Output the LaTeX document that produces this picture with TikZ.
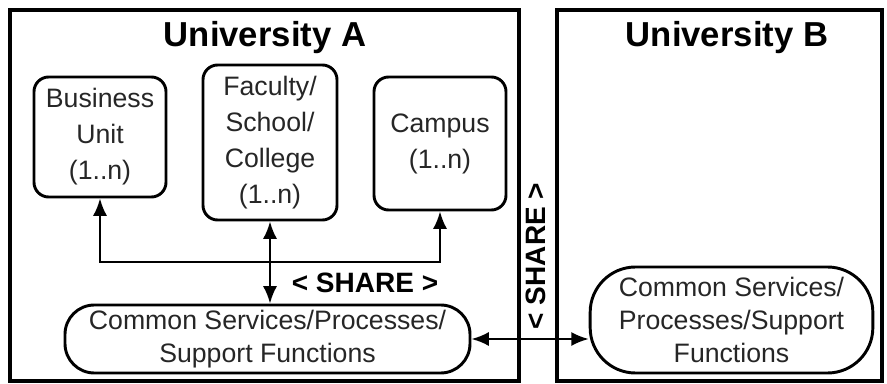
\documentclass[tikz,border=0pt]{standalone}
\usepackage{fontspec}
\setmainfont{Liberation Sans}
\usetikzlibrary{arrows.meta}
\begin{document}
\begin{tikzpicture}[x=0.75pt, y=-0.75pt, >={Latex[length=13pt,width=10.5pt]},
  unibox/.style={draw, line width=2.4pt},
  unitbox/.style={draw, line width=2.2pt, rounded corners=11pt, align=center, inner sep=2pt,
    text=black!85, font=\fontsize{20}{27}\selectfont},
  commonbox/.style={draw, line width=2.2pt, align=center, inner sep=2pt,
    text=black!85, font=\fontsize{20}{25}\selectfont},
  titletext/.style={font=\fontsize{26}{30}\selectfont\bfseries},
  sharetext/.style={font=\fontsize{21}{25}\selectfont\bfseries},
  linkarrow/.style={line width=1.6pt, <->}]
  \useasboundingbox (0,0) rectangle (887,384);
  % the two universities
  \node[unibox, minimum width=381.75pt, minimum height=278.25pt] (uniA) at (264.5,195.5) {};
  \node[unibox, minimum width=243.75pt, minimum height=278.25pt] (uniB) at (719.5,195.5) {};
  \node[titletext] (titleA) at (265,38) {University A};
  \node[titletext] (titleB) at (727,38) {University B};
  % units of A
  \node[unitbox, minimum width=99pt, minimum height=90pt] (bu) at (100,137) {Business\\Unit\\(1..n)};
  \node[unitbox, minimum width=100.5pt, minimum height=116.25pt] (fac) at (270,142.5) {Faculty/\\School/\\College\\(1..n)};
  \node[unitbox, minimum width=99pt, minimum height=99.75pt] (cam) at (440,143.5) {Campus\\(1..n)};
  % common services
  \node[commonbox, rounded corners=22pt, minimum width=303.75pt, minimum height=51pt] (comA) at (267.5,339)
    {Common Services/Processes/\\Support Functions};
  \node[commonbox, rounded corners=34pt, minimum width=212pt, minimum height=79.5pt] (comB) at (731.5,320)
    {Common Services/\\Processes/Support\\Functions};
  \coordinate (hl) at (100,262);
  \draw[linkarrow] (bu.south) |- (cam.south |- hl) -- (cam.south);
  \draw[linkarrow] (fac.south) -- (fac.south |- comA.north);
  \draw[linkarrow] (comA.east) -- (comA.east -| comB.west);
  \node[sharetext] (shareA) at (365,283) {< SHARE >};
  \node[sharetext, rotate=90] (shareB) at (536,256) {< SHARE >};
\end{tikzpicture}
\end{document}
